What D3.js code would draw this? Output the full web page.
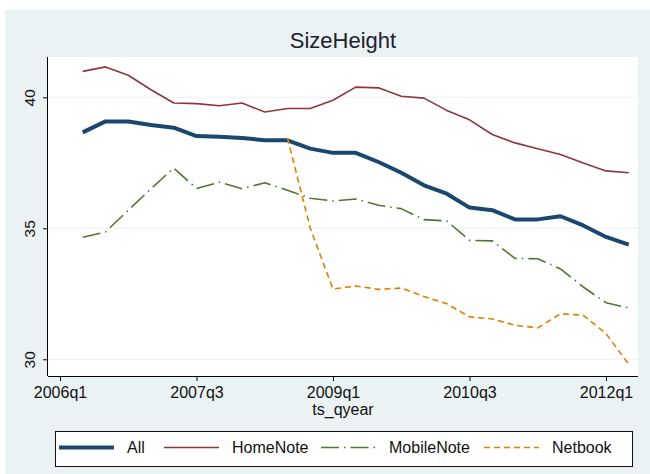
<!DOCTYPE html>
<html>
<head>
<meta charset="utf-8">
<script src="https://cdn.jsdelivr.net/npm/d3@7"></script>
<style>
  body { margin: 0; background: #fff; }
  text { font-family: "Liberation Sans", Arial, sans-serif; }
</style>
</head>
<body>
<svg width="650" height="474"></svg>
<script>
// quarter index: 0 = 2006q1
var quarters = d3.range(1, 26);
var tickQuarters = [0, 6, 12, 18, 24];
var tickLabels = ["2006q1", "2007q3", "2009q1", "2010q3", "2012q1"];
var yTicks = [30, 35, 40];

var allVals = [38.66, 39.08, 39.08, 38.94, 38.84, 38.52, 38.49, 38.45, 38.36, 38.36,
  38.04, 37.88, 37.88, 37.53, 37.12, 36.64, 36.32, 35.79, 35.69, 35.34,
  35.34, 35.46, 35.11, 34.67, 34.38];
var homeNote = [40.99, 41.16, 40.84, 40.29, 39.78, 39.76, 39.68, 39.78, 39.44, 39.57,
  39.57, 39.89, 40.39, 40.36, 40.04, 39.97, 39.50, 39.14, 38.58, 38.26,
  38.04, 37.82, 37.49, 37.19, 37.12];
var mobileNote = [34.66, 34.86, 35.69, 36.51, 37.30, 36.52, 36.76, 36.51, 36.74, 36.45,
  36.15, 36.04, 36.12, 35.88, 35.75, 35.33, 35.28, 34.54, 34.52, 33.85,
  33.84, 33.45, 32.76, 32.16, 31.96];
// Netbook series starts in 2008q3
var netbook = [null, null, null, null, null, null, null, null, null, 38.45,
  35.0, 32.68, 32.80, 32.67, 32.72, 32.40, 32.12, 31.62, 31.54, 31.30,
  31.20, 31.74, 31.68, 30.98, 29.81];

var seriesNames = ["All", "HomeNote", "MobileNote", "Netbook"];
var seriesVals = [allVals, homeNote, mobileNote, netbook];
var colors = ["#1a476f", "#90353b", "#55752f", "#e37e00"];
var widths = [4, 1.6, 1.6, 1.6];
var dashes = [null, null, "18,5,1.5,5", "6,4"];

var svg = d3.select("svg"),
    width = +svg.attr("width"),
    height = +svg.attr("height"),
    plot = {left: 48, right: 638, top: 57, bottom: 376};

svg.append("rect")
    .attr("x", 5).attr("y", 10)
    .attr("width", width - 5).attr("height", height - 10)
    .attr("fill", "#eaf2f3");

svg.append("rect")
    .attr("x", plot.left).attr("y", plot.top)
    .attr("width", plot.right - plot.left).attr("height", plot.bottom - plot.top)
    .attr("fill", "#fff");

var x = d3.scaleLinear()
    .domain([0, 24])
    .range([60, 606]);
var y = d3.scaleLinear()
    .domain([30, 40])
    .range([359.3, 97.3]);

// gridlines
svg.append("g")
  .selectAll("line")
  .data(yTicks)
  .enter().append("line")
    .attr("x1", plot.left).attr("x2", plot.right)
    .attr("y1", function(d) { return y(d); })
    .attr("y2", function(d) { return y(d); })
    .attr("stroke", "#eaf2f3")
    .attr("stroke-width", 1);

svg.append("text")
    .attr("x", (plot.left + plot.right) / 2)
    .attr("y", 48)
    .attr("text-anchor", "middle")
    .attr("font-size", 22)
    .attr("fill", "#1e2030")
    .text("SizeHeight");

var xAxis = svg.append("g")
    .attr("transform", "translate(0," + plot.bottom + ")")
    .call(d3.axisBottom(x)
      .tickValues(tickQuarters)
      .tickFormat(function(d, i) { return tickLabels[i]; })
      .tickSize(5)
      .tickSizeOuter(0));
xAxis.select(".domain")
    .attr("d", "M" + plot.left + ",0.5H" + plot.right);
xAxis.selectAll("text")
    .attr("y", 22)
    .attr("dy", 0)
    .attr("font-size", 16)
    .attr("fill", "#111")
    .attr("font-family", "Liberation Sans, Arial, sans-serif");

var yAxis = svg.append("g")
    .attr("transform", "translate(" + plot.left + ",0)")
    .call(d3.axisLeft(y).tickValues(yTicks).tickSize(5).tickSizeOuter(0));
yAxis.select(".domain")
    .attr("d", "M-0.5," + plot.top + "V" + plot.bottom);
yAxis.selectAll("text")
    .attr("transform", "rotate(-90)")
    .attr("x", 0)
    .attr("y", -13)
    .attr("dy", 0)
    .attr("text-anchor", "middle")
    .attr("font-size", 15.5)
    .attr("fill", "#111")
    .attr("font-family", "Liberation Sans, Arial, sans-serif");

svg.append("text")
    .attr("x", (plot.left + plot.right) / 2)
    .attr("y", 415)
    .attr("text-anchor", "middle")
    .attr("font-size", 16)
    .attr("fill", "#111")
    .text("ts_qyear");

var line = d3.line()
    .defined(function(d) { return d[1] != null; })
    .x(function(d) { return x(d[0]); })
    .y(function(d) { return y(d[1]); });

seriesVals.forEach(function(vals, i) {
  svg.append("path")
      .datum(quarters.map(function(q, j) { return [q, vals[j]]; }))
      .attr("fill", "none")
      .attr("stroke", colors[i])
      .attr("stroke-width", widths[i])
      .attr("stroke-linejoin", "round")
      .attr("stroke-dasharray", dashes[i])
      .attr("d", line);
});

// legend
var legend = svg.append("g");
legend.append("rect")
    .attr("x", 55.5).attr("y", 431.5)
    .attr("width", 577).attr("height", 35)
    .attr("fill", "#fff")
    .attr("stroke", "#111")
    .attr("stroke-width", 1);

var legX = [59, 164, 321, 484];
seriesNames.forEach(function(name, i) {
  var g = legend.append("g").attr("transform", "translate(" + legX[i] + ",447.5)");
  g.append("line")
      .attr("x1", 0).attr("x2", 55)
      .attr("stroke", colors[i])
      .attr("stroke-width", widths[i])
      .attr("stroke-dasharray", dashes[i]);
  g.append("text")
      .attr("x", 68)
      .attr("dy", "0.35em")
      .attr("font-size", 16)
      .attr("fill", "#111")
      .text(name);
});
</script>
</body>
</html>
